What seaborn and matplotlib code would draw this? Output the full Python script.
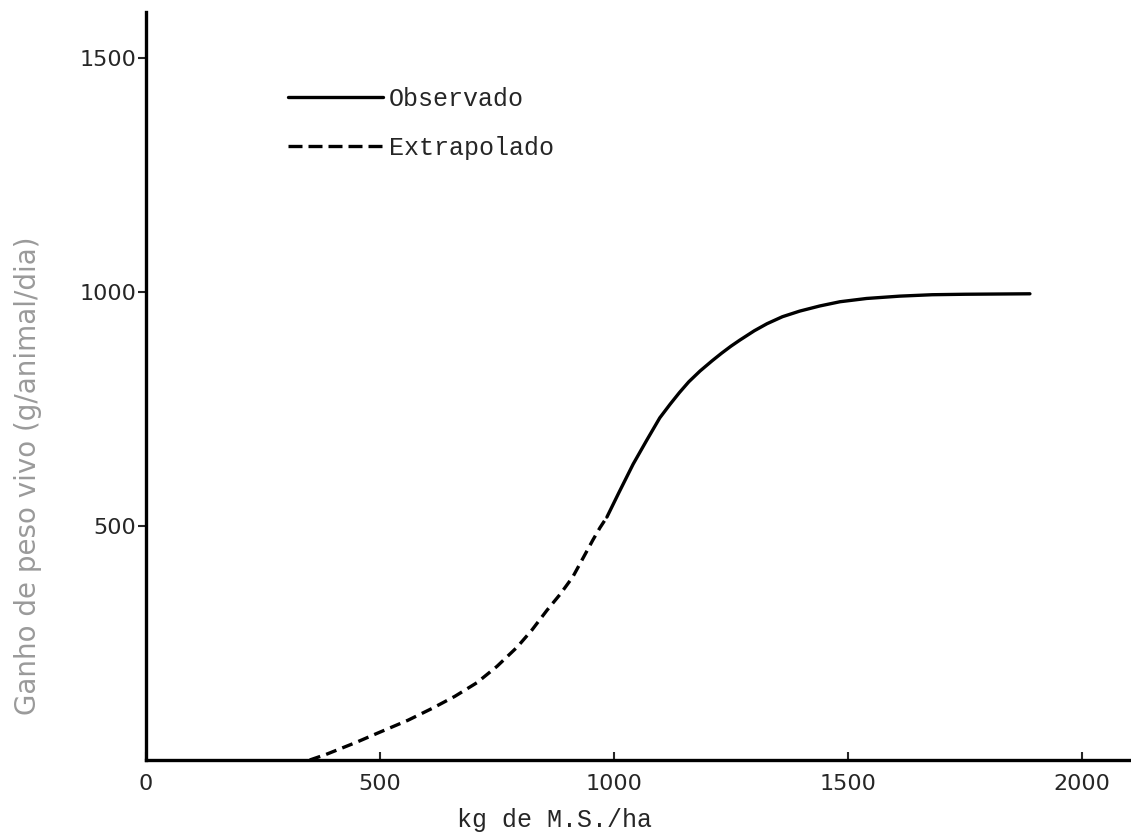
import matplotlib
matplotlib.use("Agg")
import matplotlib.pyplot as plt
import pandas as pd
import seaborn as sns

extrap_x = [350, 385, 420, 450, 494, 560, 613, 660, 707, 750, 793, 825, 857, 885, 912, 930, 955, 970, 985]
extrap_y = [0, 12, 26, 38, 57, 85, 111, 136, 165, 200, 241, 278, 320, 354, 391, 424, 470, 496, 519]
obs_x = [985, 1010, 1041, 1070, 1098, 1120, 1140, 1160, 1184, 1210, 1230, 1250, 1269, 1300,
         1327, 1360, 1397, 1440, 1483, 1540, 1611, 1680, 1750, 1889]
obs_y = [519, 570, 632, 683, 731, 760, 785, 808, 831, 853, 869, 884, 897, 917,
         932, 947, 959, 970, 979, 986, 991, 994, 995, 996]

x_ticks = [0, 500, 1000, 1500, 2000]
y_ticks = [500, 1000, 1500]

sns.set_theme(style="ticks")
plt.rcParams['font.family'] = ['DejaVu Sans']

df = pd.DataFrame({
    'x': extrap_x + obs_x,
    'y': extrap_y + obs_y,
    'serie': ['Extrapolado'] * len(extrap_x) + ['Observado'] * len(obs_x),
})

fig = plt.figure(figsize=(11.31, 8.36), dpi=100)
ax = fig.add_axes([146 / 1131, 76 / 836, 985 / 1131, 748 / 836])

sns.lineplot(data=df, x='x', y='y', style='serie',
             style_order=['Observado', 'Extrapolado'],
             dashes={'Observado': '', 'Extrapolado': (3.3, 1.9)},
             color='black', linewidth=2.4, estimator=None, ax=ax)

ax.set_xlim(0, 2105)
ax.set_ylim(0, 1598)
ax.set_xticks(x_ticks)
ax.set_yticks(y_ticks)
ax.tick_params(axis='x', direction='in', length=6, width=1.5, pad=10, labelsize=16)
ax.tick_params(axis='y', direction='out', length=6, width=1.5, pad=1, labelsize=16)

for side in ['top', 'right']:
    ax.spines[side].set_visible(False)
for side in ['left', 'bottom']:
    ax.spines[side].set_linewidth(2.4)
    ax.spines[side].set_color('black')

ax.set_xlabel("kg de M.S./ha", family='Liberation Mono', fontsize=18, va='center')
ax.xaxis.set_label_coords(0.415, -0.080)
ax.set_ylabel("Ganho de peso vivo (g/animal/dia)", fontsize=20, color='#9a9a9a', va='center')
ax.yaxis.set_label_coords(-0.120, 0.38)

handles, labels = ax.get_legend_handles_labels()
leg = ax.legend(handles, labels, loc='upper left', bbox_to_anchor=(0.144, 0.900),
                frameon=False, handlelength=3.8, handletextpad=0.25, labelspacing=1.0,
                borderpad=0, borderaxespad=0,
                prop={'family': 'Liberation Mono', 'size': 18})
for line in leg.get_lines():
    line.set_color('black')
    line.set_linewidth(2.4)
leg.get_lines()[1].set_dashes((4.2, 1.8))

fig.savefig("out.png", dpi=100)
